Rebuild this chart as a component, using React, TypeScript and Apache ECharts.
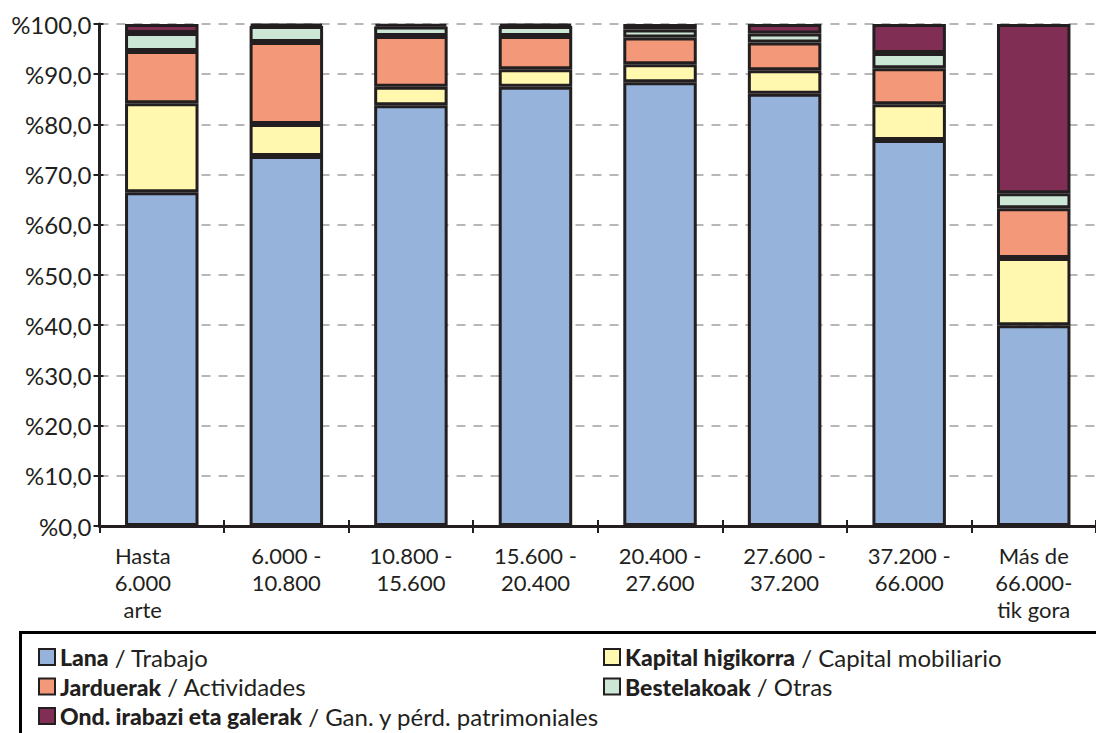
import React, { useEffect, useRef } from "react";
import * as echarts from "echarts";

const categories = [
  "Hasta\n6.000\narte",
  "6.000 -\n10.800",
  "10.800 -\n15.600",
  "15.600 -\n20.400",
  "20.400 -\n27.600",
  "27.600 -\n37.200",
  "37.200 -\n66.000",
  "Más de\n66.000-\ntik gora",
];

const lana = [66.5, 73.7, 83.8, 87.5, 88.4, 86.1, 76.9, 40.0];
const kapital = [17.7, 6.4, 3.7, 3.5, 3.6, 4.7, 7.1, 13.4];
const jarduerak = [10.4, 16.3, 10.1, 6.6, 5.3, 5.5, 7.2, 9.9];
const bestelakoak = [3.6, 3.2, 1.9, 2.0, 1.6, 1.8, 3.0, 3.0];
const ond = [1.8, 0.4, 0.5, 0.4, 1.1, 1.9, 5.8, 33.7];

const namesEu = ["Lana", "Kapital higikorra", "Jarduerak", "Bestelakoak", "Ond. irabazi eta galerak"];
const namesEs = ["Trabajo", "Capital mobiliario", "Actividades", "Otras", "Gan. y pérd. patrimoniales"];
const colors = ["#95B3DB", "#FFF8AE", "#F4987A", "#CDE7D6", "#812E55"];
const seriesData = [lana, kapital, jarduerak, bestelakoak, ond];

const INK = "#231F20";
const FONT = "Lato";

export default function App() {
  const ref = useRef<HTMLDivElement>(null);
  useEffect(() => {
    if (!ref.current) return;
    const chart = echarts.init(ref.current, undefined, { renderer: "svg" });
    const legendText = {
      fontFamily: FONT,
      fontSize: 23,
      color: INK,
      lineHeight: 24,
      rich: {
        b: { fontFamily: FONT, fontSize: 23, fontWeight: 900, color: INK, lineHeight: 24 },
        r: { fontFamily: FONT, fontSize: 24, color: INK, lineHeight: 24 },
      },
    };
    const fmt = (name: string) => {
      const i = namesEu.indexOf(name);
      return `{b|${name}}{r| / ${namesEs[i]}}`;
    };
    const legendBase = {
      orient: "vertical",
      top: 645,
      height: 150,
      padding: 0,
      itemWidth: 16,
      itemHeight: 16,
      itemGap: 5.5,
      itemStyle: { borderColor: INK, borderWidth: 2 },
      icon: "rect",
      formatter: fmt,
      textStyle: legendText,
      selectedMode: false,
    };
    const catData = categories.map((c, i) =>
      i === 0 ? { value: c, textStyle: { padding: [0, 38, 0, 0] } } : c
    );
    chart.setOption({
      animation: false,
      grid: { left: 99.5, right: 0, top: 24, bottom: 207, containLabel: false },
      graphic: [
        {
          type: "rect",
          shape: { x: 20.5, y: 632.5, width: 1100, height: 120 },
          style: { fill: "none", stroke: "#000", lineWidth: 3 },
          z: 0,
        },
      ],
      legend: [
        { ...legendBase, data: [namesEu[0], namesEu[2], namesEu[4]], left: 38 },
        { ...legendBase, data: [namesEu[1], namesEu[3]], left: 603 },
      ],
      xAxis: [
        {
          type: "category",
          data: catData,
          position: "bottom",
          axisLine: { lineStyle: { color: INK, width: 3 } },
          axisTick: { show: true, length: 7, lineStyle: { color: INK, width: 2 } },
          axisLabel: {
            interval: 0,
            margin: 16,
            fontFamily: FONT,
            fontSize: 22,
            lineHeight: 27,
            color: INK,
            align: "center",
          },
        },
        {
          type: "category",
          data: categories,
          position: "bottom",
          axisLine: { show: false },
          axisTick: { show: true, inside: true, length: 6, lineStyle: { color: INK, width: 2 } },
          axisLabel: { show: false },
        },
      ],
      yAxis: [
        {
          type: "value",
          min: 0,
          max: 100,
          interval: 10,
          axisLine: { show: true, lineStyle: { color: INK, width: 3 } },
          axisTick: { show: true, length: 6, lineStyle: { color: INK, width: 2 } },
          axisLabel: {
            margin: 8,
            fontFamily: FONT,
            fontSize: 24,
            color: INK,
            formatter: (v: number) => "%" + v.toFixed(1).replace(".", ","),
          },
          splitLine: { show: true, lineStyle: { color: "#A0A0A0", width: 1.5, type: [9, 8] } },
        },
        {
          type: "value",
          min: 0,
          max: 100,
          interval: 10,
          position: "left",
          axisLine: { show: false },
          axisTick: { show: true, inside: true, length: 4, lineStyle: { color: INK, width: 2 } },
          axisLabel: { show: false },
          splitLine: { show: false },
        },
      ],
      series: seriesData.map((d, i) => ({
        name: namesEu[i],
        type: "bar",
        stack: "total",
        data: d,
        barCategoryGap: "41%",
        itemStyle: { color: colors[i], borderColor: INK, borderWidth: 3 },
      })),
    });
    return () => chart.dispose();
  }, []);
  return (
    <div
      ref={ref}
      style={{ position: "absolute", left: 0, top: 0, width: 1096, height: 733, background: "#fff" }}
    />
  );
}
